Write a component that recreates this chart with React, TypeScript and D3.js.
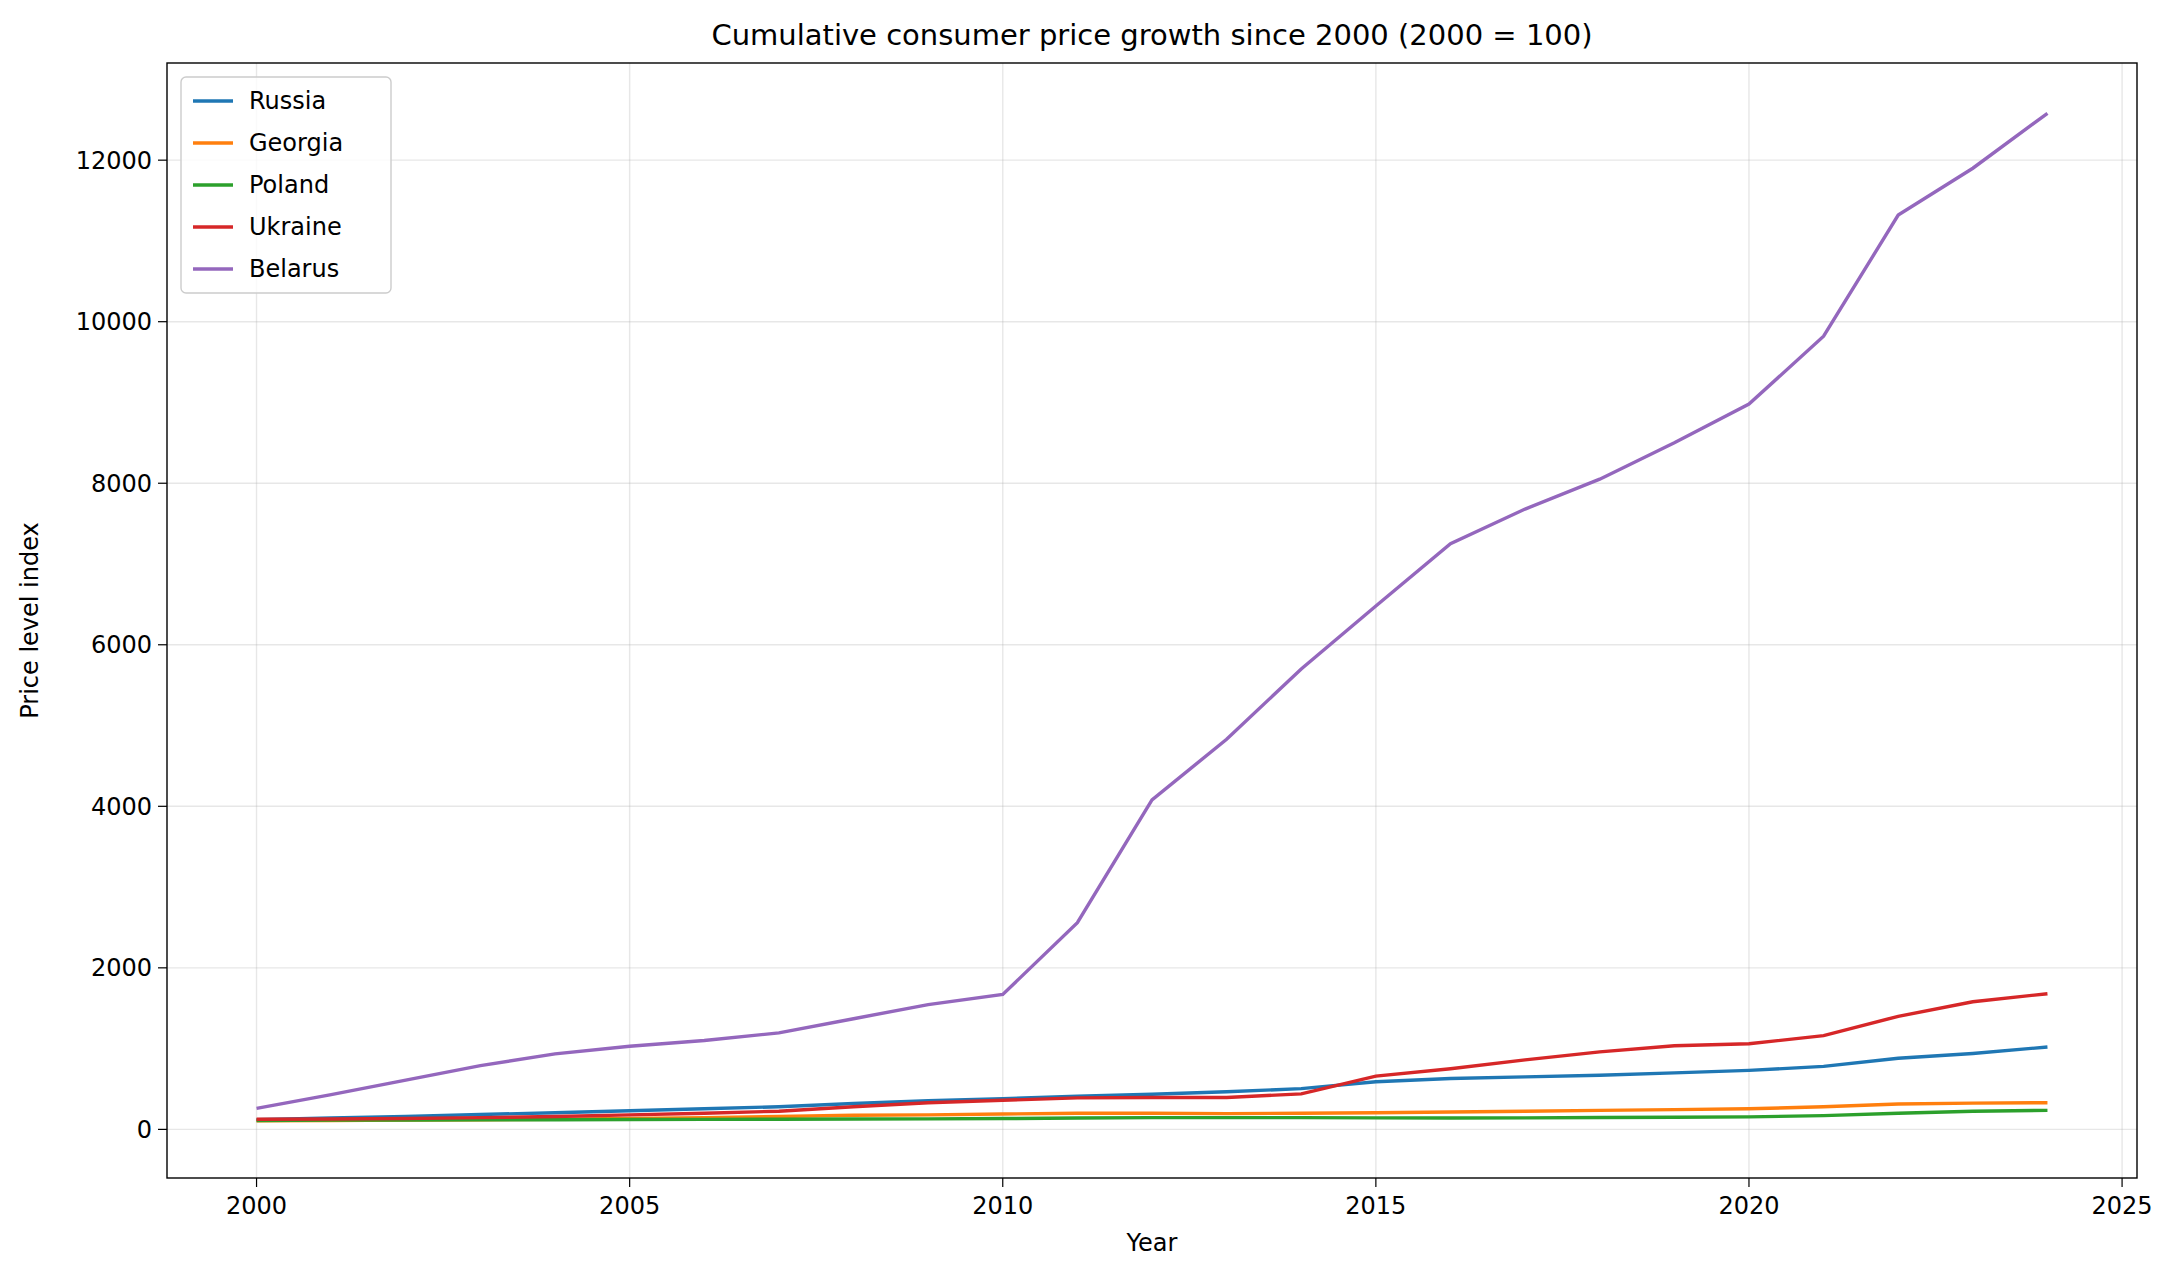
import * as React from 'react'
import * as d3 from 'd3'

const years = d3.range(2000, 2025)
const russia = [120,140,160,185,205,230,255,280,320,355,380,410,435,465,505,590,630,650,670,700,730,780,880,940,1020]
const georgia = [105,110,115,120,125,135,145,160,175,180,190,200,200,195,200,205,215,225,235,245,255,280,315,325,330]
const poland = [110,115,117,118,120,122,124,126,128,130,134,140,145,146,145,143,141,143,147,150,155,170,200,225,235]
const ukraine = [125,128,135,145,160,180,200,225,280,330,360,390,395,395,440,660,750,860,960,1035,1060,1160,1400,1580,1680]
const belarus = [260,430,610,790,935,1030,1100,1195,1370,1545,1670,2560,4080,4830,5700,6480,7250,7680,8050,8500,8980,9820,11320,11900,12580]

const series = [
  { name: 'Russia', values: russia, color: '#1f77b4' },
  { name: 'Georgia', values: georgia, color: '#ff7f0e' },
  { name: 'Poland', values: poland, color: '#2ca02c' },
  { name: 'Ukraine', values: ukraine, color: '#d62728' },
  { name: 'Belarus', values: belarus, color: '#9467bd' },
]
const xTicks = [2000, 2005, 2010, 2015, 2020, 2025]
const yTicks = [0, 2000, 4000, 6000, 8000, 10000, 12000]

const W = 2179, H = 1278
const L = 167, R = 2137, T = 63, B = 1178

export default function App() {
  const x = d3.scaleLinear().domain([1998.8, 2025.2]).range([L, R])
  const y = d3.scaleLinear().domain([-602, 13203]).range([B, T])
  const line = d3.line<number>().x((_, i) => x(years[i])).y(d => y(d))
  const font = 'DejaVu Sans, sans-serif'
  return (
    <svg width={W} height={H} style={{ display: 'block', margin: -8 }} fontFamily={font}>
      <rect width={W} height={H} fill="#fff" />
      {xTicks.map(t => (
        <g key={'x' + t}>
          <line x1={x(t)} x2={x(t)} y1={T} y2={B} stroke="#b0b0b0" strokeOpacity={0.3} strokeWidth={1.4} />
          <line x1={x(t)} x2={x(t)} y1={B} y2={B + 9} stroke="#000" strokeWidth={1.2} />
          <text x={x(t)} y={B + 36} fontSize={24} textAnchor="middle">{t}</text>
        </g>
      ))}
      {yTicks.map(t => (
        <g key={'y' + t}>
          <line x1={L} x2={R} y1={y(t)} y2={y(t)} stroke="#b0b0b0" strokeOpacity={0.3} strokeWidth={1.4} />
          <line x1={L - 9} x2={L} y1={y(t)} y2={y(t)} stroke="#000" strokeWidth={1.2} />
          <text x={L - 15} y={y(t)} dy="0.35em" fontSize={24} textAnchor="end">{t}</text>
        </g>
      ))}
      {series.map(s => (
        <path key={s.name} d={line(s.values) || ''} fill="none" stroke={s.color} strokeWidth={3.4} />
      ))}
      <rect x={L} y={T} width={R - L} height={B - T} fill="none" stroke="#000" strokeWidth={1.4} />
      <text x={(L + R) / 2} y={T - 18} fontSize={29} textAnchor="middle">Cumulative consumer price growth since 2000 (2000 = 100)</text>
      <text x={(L + R) / 2} y={B + 73} fontSize={24} textAnchor="middle">Year</text>
      <text transform={`translate(38,${(T + B) / 2}) rotate(-90)`} fontSize={24} textAnchor="middle">Price level index</text>
      <g transform={`translate(${L + 14},${T + 14})`}>
        <rect width={210} height={216} rx={5} fill="#fff" fillOpacity={0.8} stroke="#ccc" strokeWidth={1.4} />
        {series.map((s, i) => (
          <g key={s.name} transform={`translate(12,${24 + i * 42})`}>
            <line x1={0} x2={40} y1={0} y2={0} stroke={s.color} strokeWidth={3.4} />
            <text x={56} y={0} dy="0.35em" fontSize={24}>{s.name}</text>
          </g>
        ))}
      </g>
    </svg>
  )
}
